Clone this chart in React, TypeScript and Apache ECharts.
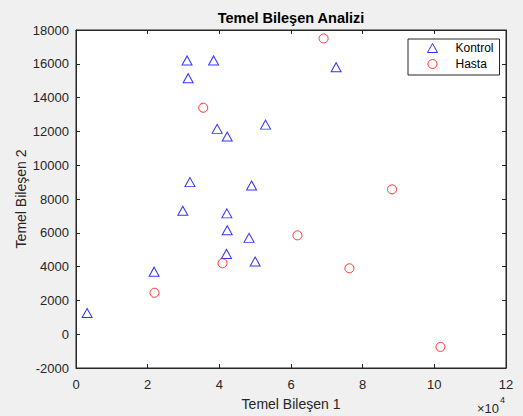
import React, { useEffect, useRef } from "react";
import * as echarts from "echarts";

const kontrolX = [3100, 21800, 31000, 31300, 38400, 31800, 29800, 39400, 42200, 52900, 42100, 42200, 42000, 48300, 49000, 50000, 72600];
const kontrolY = [1250, 3700, 16200, 15150, 16200, 9000, 7300, 12150, 11700, 12400, 7150, 6150, 4750, 5700, 8800, 4300, 15800];
const hastaX = [35500, 69100, 61800, 40900, 76300, 21900, 88200, 101700];
const hastaY = [13400, 17500, 5850, 4200, 3900, 2450, 8570, -750];

const xMin = 0, xMax = 120000, xStep = 20000;
const yMin = -2000, yMax = 18000, yStep = 2000;

const titleText = "Temel Bileşen Analizi";
const xName = "Temel Bileşen 1";
const yName = "Temel Bileşen 2";

const FONT = "'Liberation Sans', Arial, sans-serif";
const AX = "#262626";

export default function App() {
  const ref = useRef<HTMLDivElement>(null);
  useEffect(() => {
    document.body.style.margin = "0";
    const chart = echarts.init(ref.current!, null, { renderer: "svg" });
    const kData = kontrolX.map((x, i) => [x, kontrolY[i]]);
    const hData = hastaX.map((x, i) => [x, hastaY[i]]);
    const tick = { show: true, inside: true, length: 4, lineStyle: { color: AX } };
    chart.setOption({
      animation: false,
      backgroundColor: "#f0f0f0",
      textStyle: { fontFamily: FONT },
      grid: {
        left: 76, top: 30, right: 17, bottom: 48,
        show: true, backgroundColor: "#ffffff", borderColor: AX, borderWidth: 1,
      },
      xAxis: [
        {
          type: "value", min: xMin, max: xMax, interval: xStep, position: "bottom",
          axisLine: { show: true, onZero: false, lineStyle: { color: AX } },
          axisTick: tick,
          splitLine: { show: false },
          axisLabel: { color: AX, fontSize: 13, margin: 10, fontFamily: FONT, formatter: (v: number) => String(v / 10000) },
        },
        {
          type: "value", min: xMin, max: xMax, interval: xStep, position: "top",
          axisLine: { show: true, onZero: false, lineStyle: { color: AX } },
          axisTick: tick, splitLine: { show: false }, axisLabel: { show: false },
        },
      ],
      yAxis: [
        {
          type: "value", min: yMin, max: yMax, interval: yStep, position: "left",
          axisLine: { show: true, onZero: false, lineStyle: { color: AX } },
          axisTick: tick,
          splitLine: { show: false },
          axisLabel: { color: AX, fontSize: 13, margin: 7, fontFamily: FONT, formatter: (v: number) => String(v) },
        },
        {
          type: "value", min: yMin, max: yMax, interval: yStep, position: "right",
          axisLine: { show: true, onZero: false, lineStyle: { color: AX } },
          axisTick: tick, splitLine: { show: false }, axisLabel: { show: false },
        },
      ],
      legend: {
        orient: "vertical", left: 408, top: 39,
        padding: [3, 6, 5, 19], itemGap: 4, itemWidth: 10, itemHeight: 9,
        backgroundColor: "#ffffff", borderColor: AX, borderWidth: 1, borderRadius: 0,
        itemStyle: { borderWidth: 1 },
        textStyle: { color: "#000", fontSize: 12, fontFamily: FONT, padding: [0, 0, 0, 13] },
        data: ["Kontrol", "Hasta"],
      },
      series: [
        {
          name: "Kontrol", type: "scatter", data: kData, symbol: "triangle", symbolSize: [10, 9],
          itemStyle: { color: "transparent", borderColor: "#0000ff", borderWidth: 1 },
        },
        {
          name: "Hasta", type: "scatter", data: hData, symbol: "circle", symbolSize: 9,
          itemStyle: { color: "transparent", borderColor: "#ff0000", borderWidth: 1 },
        },
      ],
      graphic: [
        { type: "text", x: 291, y: 18, style: { text: titleText, font: `bold 14.5px ${FONT}`, fill: "#000", textAlign: "center", textVerticalAlign: "middle" } },
        { type: "text", x: 291, y: 404, style: { text: xName, font: `14px ${FONT}`, fill: AX, textAlign: "center", textVerticalAlign: "middle" } },
        { type: "text", x: 21, y: 199, rotation: Math.PI / 2, style: { text: yName, font: `14px ${FONT}`, fill: AX, textAlign: "center", textVerticalAlign: "middle" } },
        { type: "text", x: 477, y: 408, style: { text: "×10", font: `13px ${FONT}`, fill: AX, textVerticalAlign: "middle" } },
        { type: "text", x: 500, y: 400, style: { text: "4", font: `9px ${FONT}`, fill: AX, textVerticalAlign: "middle" } },
      ],
    });
    return () => chart.dispose();
  }, []);
  return <div ref={ref} style={{ width: 523, height: 416 }} />;
}
